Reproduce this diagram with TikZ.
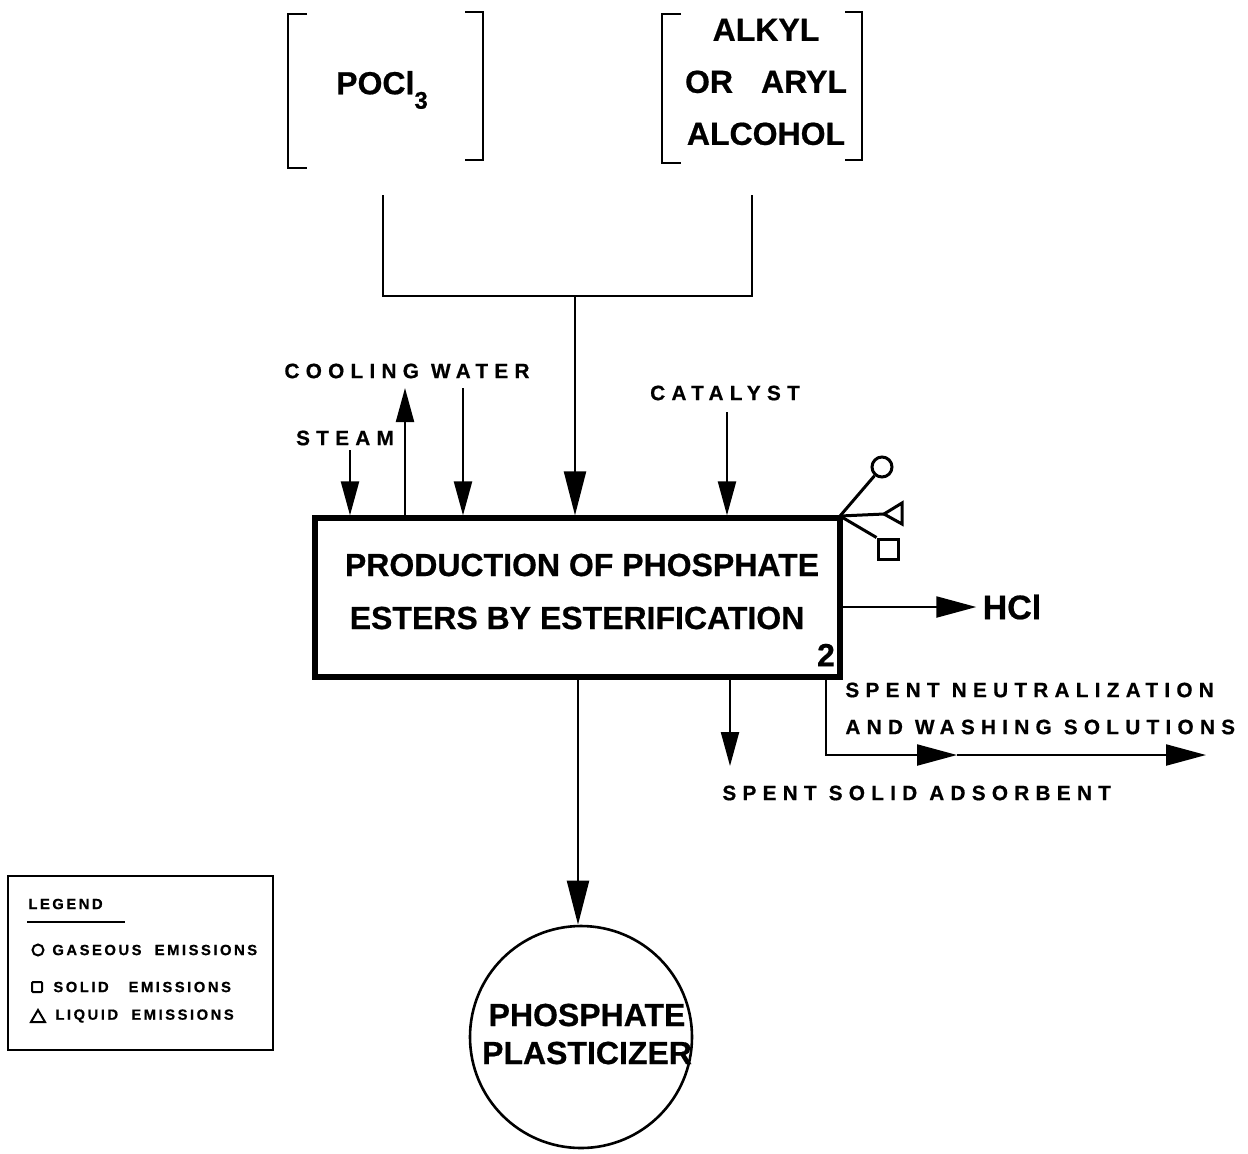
\documentclass[tikz,border=0pt]{standalone}
\usepackage{fontspec}
\setmainfont{Liberation Sans}
\newfontfamily\bgfont[FakeBold=0.6]{Liberation Sans Bold}
\newfontfamily\spfont[LetterSpace=30,FakeBold=0.6]{Liberation Sans Bold}
\newfontfamily\lgfont[LetterSpace=17,FakeBold=0.6]{Liberation Sans Bold}
\usetikzlibrary{arrows.meta}
\begin{document}
\begin{tikzpicture}[x=0.5pt,y=-0.5pt,
  thinline/.style={line width=1.1pt},
  symline/.style={line width=1.5pt},
  bigarrow/.style={thinline,-{Triangle[length=22pt,width=11pt]}},
  smallarrow/.style={thinline,-{Triangle[length=17pt,width=9pt]}},
  midarrow/.style={thinline,-{Triangle[length=20pt,width=10.5pt]}},
  big/.style={font=\fontsize{16}{18}\selectfont\bgfont, inner sep=0pt},
  small/.style={font=\fontsize{10.4}{12}\selectfont\spfont, inner sep=0pt},
  lg/.style={font=\fontsize{7.4}{8}\selectfont\lgfont, inner sep=0pt, anchor=west},
  bracket/.style={line width=1.3pt}]
\useasboundingbox (0,0) rectangle (1248,1153);

% brackets
\draw[bracket] (307,14) -- (288,14) -- (288,168) -- (307,168);
\draw[bracket] (465,12) -- (483,12) -- (483,160) -- (465,160);
\draw[bracket] (681,14) -- (662,14) -- (662,163) -- (681,163);
\draw[bracket] (845,12) -- (862,12) -- (862,160) -- (845,160);

\node[big] (pocl) at (382,90) {POCl\raisebox{-0.45em}{\fontsize{12}{12}\selectfont 3}};
\node[big, align=center, font=\fontsize{16}{26}\selectfont\bgfont] (alc) at (766,82) {ALKYL\\OR\hspace{14pt}ARYL\\ALCOHOL};

% process box
\node[draw, line width=2.6pt, minimum width=262.5pt, minimum height=79.5pt, inner sep=0pt] (box) at (577.5,597.5) {};
\node[big] (t1) at (582,565) {PRODUCTION OF PHOSPHATE};
\node[big] (t2) at (577,618) {ESTERS BY ESTERIFICATION};
\node[big] (num) at (826,655) {2};

% feeds
\coordinate (p1) at (383,195);
\coordinate (a1) at (752,195);
\coordinate (j) at (575,296);
\draw[thinline] (p1) |- (j) -| (a1);
\draw[bigarrow] (j) -- (j |- box.north);

\node[small] (steam) at (345,438) {STEAM};
\coordinate (s1) at (350,450);
\draw[smallarrow] (s1) -- (s1 |- box.north);

\node[small] (cw) at (407,371) {COOLING WATER};
\coordinate (c1) at (405,388);
\coordinate (c2) at (463,388);
\draw[smallarrow] (c1 |- box.north) -- (c1);
\draw[smallarrow] (c2) -- (c2 |- box.north);

\node[small] (cat) at (725,393) {CATALYST};
\coordinate (k1) at (727,412);
\draw[smallarrow] (k1) -- (k1 |- box.north);

% emission symbols
\coordinate (em) at (840,516);
\node[draw, symline, circle, minimum size=10pt, inner sep=0pt] (gas) at (882,467) {};
\draw[symline] (em) -- (gas);
\coordinate (liq) at (884,514);
\draw[symline] (em) -- (liq);
\draw[symline] (liq) -- (902,503) -- (902,524) -- cycle;
\node[draw, symline, minimum size=10pt, inner sep=0pt] (sol) at (888,549) {};
\draw[symline] (em) -- (sol.north west);

% HCl
\node[font=\fontsize{17}{19}\selectfont\bgfont, inner sep=0pt] (hcl) at (1012,607) {HCl};
\coordinate (h0) at (843,607);
\draw[midarrow] (h0) -- ([xshift=-3pt]hcl.west);

% spent neutralization
\coordinate (n0) at (826,679);
\coordinate (n1) at (957,755);
\coordinate (n2) at (1206,755);
\draw[midarrow] (n0) |- (n1);
\draw[midarrow] (n1) -- (n2);
\node[small, anchor=west] (sn1) at (845,690) {SPENT NEUTRALIZATION};
\node[small, anchor=west] (sn2) at (845,727) {AND WASHING SOLUTIONS};

% spent solid adsorbent
\coordinate (d0) at (730,679);
\coordinate (d1) at (730,766);
\draw[smallarrow] (d0) -- (d1);
\node[small, anchor=west] (ssa) at (722,793) {SPENT SOLID ADSORBENT};

% product
\node[draw, line width=1.3pt, circle, minimum size=111pt, inner sep=0pt] (prod) at (581,1037) {};
\node[big, align=center, font=\fontsize{16}{19}\selectfont\bgfont] (prodt) at (587,1034) {PHOSPHATE\\PLASTICIZER};
\coordinate (o0) at (578,679);
\draw[bigarrow] (o0) -- (o0 |- prod.north);

% legend
\node[draw, line width=1pt, minimum width=132.5pt, minimum height=87pt, inner sep=0pt] (leg) at (140.5,963) {};
\node[lg] (lgt) at (28,904) {LEGEND};
\draw[line width=1.2pt] (27,922) -- (125,922);
\node[draw, line width=1pt, circle, minimum size=5.5pt, inner sep=0pt] (lc) at (38,950) {};
\node[lg] (l1) at (52,950) {GASEOUS\ \ EMISSIONS};
\node[draw, line width=1pt, minimum size=5pt, inner sep=0pt, rounded corners=0.5pt] (ls) at (37,987) {};
\node[lg] (l2) at (53,987) {SOLID\ \ \ EMISSIONS};
\coordinate (lt) at (38,1016);
\draw[line width=1pt] (31,1022) -- (38,1010) -- (45,1022) -- cycle;
\node[lg] (l3) at (55,1016) {LIQUID\ \ EMISSIONS};
\end{tikzpicture}
\end{document}
